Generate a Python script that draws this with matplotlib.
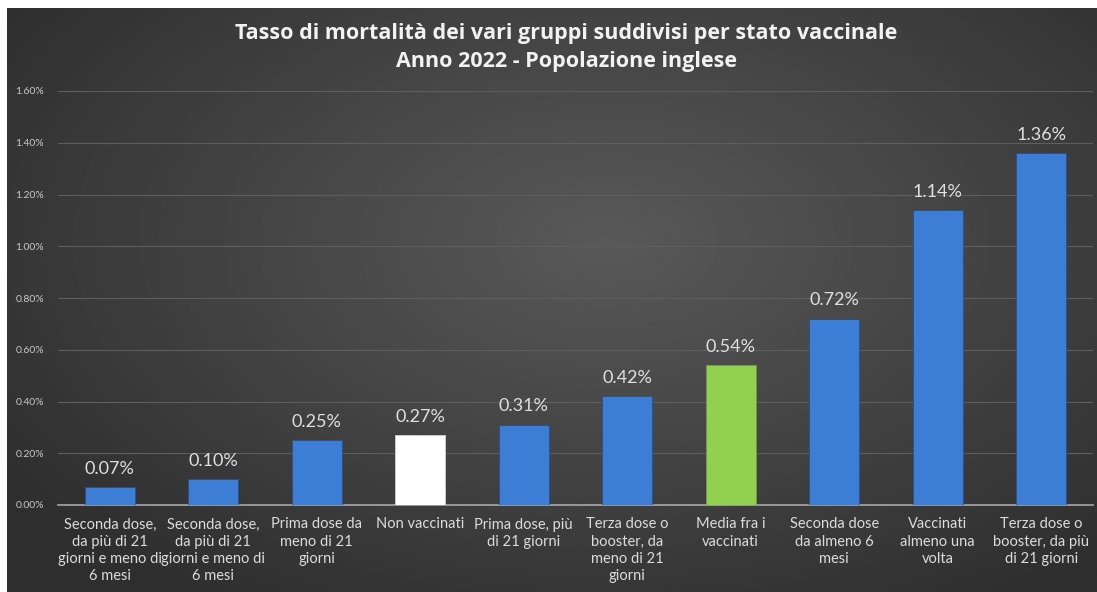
import numpy as np
import matplotlib
matplotlib.use('Agg')
from matplotlib import pyplot as plt

plt.rcParams['font.family'] = ['Lato', 'DejaVu Sans']

categories = [
    "Seconda dose,\nda più di 21\ngiorni e meno di\n6 mesi",
    "Seconda dose,\nda più di 21\ngiorni e meno di\n6 mesi",
    "Prima dose da\nmeno di 21\ngiorni",
    "Non vaccinati",
    "Prima dose, più\ndi 21 giorni",
    "Terza dose o\nbooster, da\nmeno di 21\ngiorni",
    "Media fra i\nvaccinati",
    "Seconda dose\nda almeno 6\nmesi",
    "Vaccinati\nalmeno una\nvolta",
    "Terza dose o\nbooster, da più\ndi 21 giorni",
]
values = [0.07, 0.10, 0.25, 0.27, 0.31, 0.42, 0.54, 0.72, 1.14, 1.36]
bar_colors = ['#3c7dd6'] * 10
bar_colors[3] = '#ffffff'
bar_colors[6] = '#92d050'
yticks = [0.0, 0.2, 0.4, 0.6, 0.8, 1.0, 1.2, 1.4, 1.6]

fig = plt.figure(figsize=(10.97, 5.92), dpi=100)
fig.patch.set_facecolor('white')

# radial gradient background
bg = fig.add_axes([7 / 1097, 0, 1 - 7 / 1097, 1 - 8 / 592])
yy, xx = np.mgrid[-1:1:300j, -1:1:600j]
r = np.sqrt((xx - 0.1) ** 2 + ((yy + 0.2) * 0.9) ** 2)
shade = 0.35 - 0.17 * np.clip(r / 1.35, 0, 1)
bg.imshow(shade, cmap='gray', vmin=0, vmax=1, aspect='auto', extent=[0, 1, 0, 1])
bg.axis('off')

ax = fig.add_axes([58 / 1097, 1 - 505 / 592, (1093 - 58) / 1097, (505 - 91) / 592])
ax.set_facecolor('none')
x = np.arange(len(values))
bars = ax.bar(x, values, width=0.48, color=bar_colors, edgecolor='#2a4f86', linewidth=0.6, zorder=3)
bars[3].set_edgecolor('#d0d0d0')
bars[6].set_edgecolor('#6f9e3a')

for xi, v in zip(x, values):
    ax.text(xi, v + 0.04, f"{v:.2f}%", ha='center', va='bottom', fontsize=13, color='#e0e0e0', zorder=4)

ax.set_xlim(-0.5, len(values) - 0.5)
ax.set_ylim(0, 1.6)
ax.set_yticks(yticks)
ax.set_yticklabels([f"{t:.2f}%" for t in yticks], fontsize=7.5, color='#c8c8c8')
ax.set_xticks(x)
ax.set_xticklabels(categories, fontsize=10.5, color='#dcdcdc', linespacing=1.3)
ax.tick_params(axis='both', length=0)
ax.tick_params(axis='x', pad=9)
ax.tick_params(axis='y', pad=10)
ax.grid(axis='y', color='#5e5e5e', linewidth=0.8, zorder=0)
for s in ['top', 'right', 'left']:
    ax.spines[s].set_visible(False)
ax.spines['bottom'].set_color('#a8a8a8')
ax.spines['bottom'].set_linewidth(1.2)

title_font = ['Open Sans', 'DejaVu Sans']
fig.text(566 / 1097, 1 - 33 / 592, "Tasso di mortalità dei vari gruppi suddivisi per stato vaccinale",
         ha='center', va='center', fontsize=15.5, fontweight='bold', color='#f2f2f2', family=title_font)
fig.text(566 / 1097, 1 - 62 / 592, "Anno 2022 - Popolazione inglese",
         ha='center', va='center', fontsize=15.5, fontweight='bold', color='#f2f2f2', family=title_font)

fig.savefig('out.png', dpi=100, facecolor=fig.get_facecolor())
